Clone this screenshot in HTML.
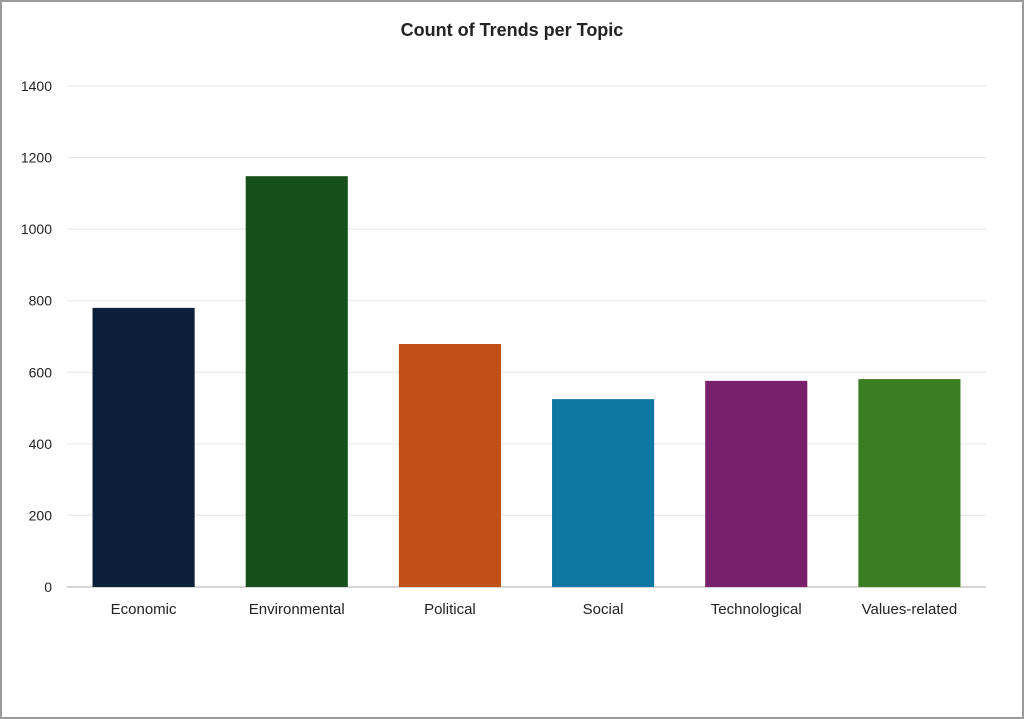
<!DOCTYPE html>
<html><head><meta charset="utf-8"><style>
html,body{margin:0;padding:0;background:#fff}
#wrap{position:relative;width:1024px;height:719px;box-sizing:border-box;border:2px solid #9a9a9a;background:#fff}
svg{position:absolute;left:-2px;top:-2px}
text{font-family:"Liberation Sans",sans-serif;fill:#222}
</style></head><body>
<div id="wrap">
<svg id="chart" width="1024" height="719"></svg>
</div>
<script>
const categories=["Economic","Environmental","Political","Social","Technological","Values-related"];
const values=[780,1148,679,525,576,581];
const colors=["#0c1f38","#16501d","#c05016","#0f77a3","#78206b","#3b7d23"];
const ticks=[0,200,400,600,800,1000,1200,1400];
const NS="http://www.w3.org/2000/svg";
const svg=document.getElementById('chart');
const x0=67,x1=986,y0=587,y1=86,maxV=1400;
const yS=v=>y0-(v/maxV)*(y0-y1);
const bw=(x1-x0)/categories.length;
const xS=i=>x0+bw*i+bw/2;
function mk(t,a){const e=document.createElementNS(NS,t);for(const k in a)e.setAttribute(k,a[k]);svg.appendChild(e);return e;}
const title=mk('text',{x:512,y:36,'text-anchor':'middle','font-size':18,'font-weight':'bold'});


title.textContent="Count of Trends per Topic";
ticks.forEach(t=>{
  const l=mk('line',{x1:x0,x2:x1,y1:yS(t),y2:yS(t),stroke:t===0?'#c8c8c8':'#e6e6e6','stroke-width':t===0?1.5:1});
  
  
  const tx=mk('text',{x:52,y:yS(t)+5,'text-anchor':'end','font-size':14});
  
  
  tx.textContent=t;
});
categories.forEach((c,i)=>{
  const w=bw*2/3;
  const r=mk('rect',{x:xS(i)-w/2,y:yS(values[i]),width:w,height:y0-yS(values[i]),fill:colors[i]});
  
  
  const tx=mk('text',{x:xS(i),y:614,'text-anchor':'middle','font-size':15});
  
  
  tx.textContent=c;
});
</script>
</body></html>
